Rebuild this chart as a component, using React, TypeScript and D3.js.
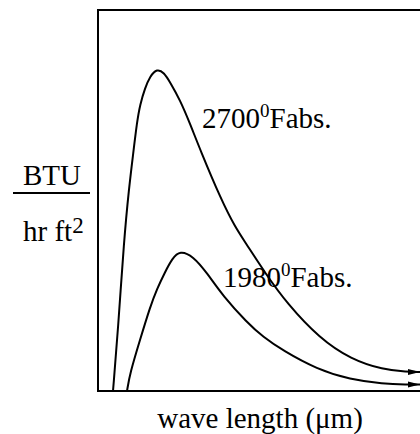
import React from "react";
import * as d3 from "d3";

// wavelength (relative units 0–100) vs. emissive power (relative units 0–100)
const curveHot: [number, number][] = [
  [4.66, 0], [6.21, 16.0], [8.07, 39.6], [9.63, 53.3], [10.87, 61.9], [12.11, 70.6],
  [13.04, 75.1], [14.6, 79.5], [16.15, 82.6], [18.32, 84.6], [20.5, 83.6], [22.36, 81.1],
  [25.47, 76.4], [28.57, 70.2], [31.68, 63.4], [38.3, 50.1], [42.6, 43.0], [45.9, 38.8],
  [52.2, 30.6], [58.6, 23.1], [68.8, 13.8], [78.6, 8.3], [88.51, 5.6], [95.96, 5.0],
  [100, 5.0],
];
const curveCool: [number, number][] = [
  [9.01, 0], [9.94, 4.7], [13.04, 13.4], [16.15, 22.0], [18.32, 26.8], [20.81, 31.2],
  [22.98, 34.7], [25.47, 36.9], [29.5, 35.4], [33.85, 31.0], [38.82, 24.9], [46.27, 18.0],
  [51.24, 14.2], [57.45, 10.6], [68.01, 5.7], [78.26, 3.0], [88.51, 1.9], [95.96, 1.7],
  [100, 1.7],
];
const labelTemps = ["2700", "1980"];
const labelX = [32.3, 38.8];
const labelY = [69.0, 27.3];

const W = 420, H = 434;
const left = 98, top = 10, bottom = 391, right = 420;
const FONT = "'Liberation Serif', 'DejaVu Serif', serif";

export default function App() {
  const x = d3.scaleLinear().domain([0, 100]).range([left, right]);
  const y = d3.scaleLinear().domain([0, 100]).range([bottom, top]);
  const line = d3.line<[number, number]>()
    .x(d => x(d[0])).y(d => y(d[1]))
    .curve(d3.curveBasis);

  return (
    <svg width={W} height={H} style={{ position: "absolute", left: 0, top: 0, background: "#fff" }}>
      <defs>
        <marker id="arr" viewBox="0 0 12 8" refX="12" refY="4" markerWidth="12" markerHeight="8"
          markerUnits="userSpaceOnUse" orient="auto">
          <path d="M0,1 L12,4 L0,7 Z" fill="#000" />
        </marker>
      </defs>
      <path d={`M${right + 10},${top} H${left} V${bottom} H${right + 10}`} fill="none" stroke="#000" strokeWidth={2} />
      {[curveHot, curveCool].map((c, i) => (
        <path key={i} d={line(c) || ""} fill="none" stroke="#000" strokeWidth={2} markerEnd="url(#arr)" />
      ))}
      {labelTemps.map((t, i) => (
        <text key={i} x={x(labelX[i])} y={y(labelY[i])} fontFamily={FONT} fontSize={29} fill="#000">
          {t}
          <tspan fontSize={19} dy={-11}>0</tspan>
          <tspan dy={11}>Fabs.</tspan>
        </text>
      ))}
      <text x={52} y={185} textAnchor="middle" fontFamily={FONT} fontSize={29}>BTU</text>
      <line x1={13} x2={90} y1={193} y2={193} stroke="#000" strokeWidth={2} />
      <text x={23} y={241} fontFamily={FONT} fontSize={29}>
        hr ft<tspan fontSize={23} dy={-8}>2</tspan>
      </text>
      <text x={260} y={428} textAnchor="middle" fontFamily={FONT} fontSize={29}>wave length (μm)</text>
    </svg>
  );
}
